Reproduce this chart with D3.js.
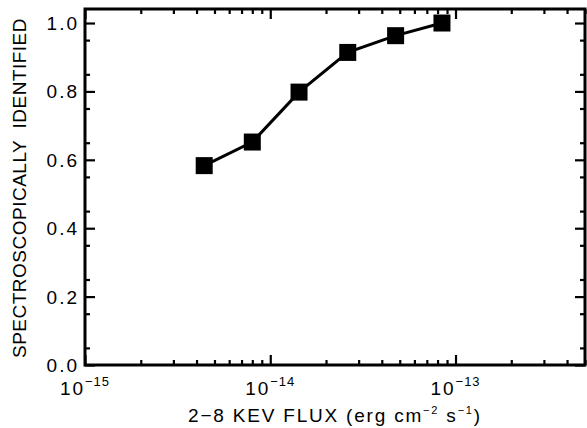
<!DOCTYPE html>
<html>
<head>
<meta charset="utf-8">
<script src="https://cdn.jsdelivr.net/npm/d3@7"></script>
<style>
  body { margin: 0; background: #fff; }
  svg { display: block; font-family: "Liberation Sans", Arial, sans-serif; }
</style>
</head>
<body>
<div id="chart"></div>
<script>
// data
const flux = [4.4e-15, 8.0e-15, 1.43e-14, 2.62e-14, 4.75e-14, 8.45e-14];
const fraction = [0.583, 0.652, 0.798, 0.914, 0.963, 1.0];
const yTicks = [0.0, 0.2, 0.4, 0.6, 0.8, 1.0];
const xMajor = [1e-15, 1e-14, 1e-13];
const xExponents = ["-15", "-14", "-13"];

const width = 587;
const height = 428;
const margin = { top: 9, right: 2, bottom: 63, left: 85 };

const svg = d3
  .select("#chart")
  .append("svg")
  .attr("width", width)
  .attr("height", height);

const x = d3
  .scaleLog()
  .domain([1e-15, 5e-13])
  .range([margin.left, width - margin.right]);
const y = d3
  .scaleLinear()
  .domain([0, 1.041])
  .range([height - margin.bottom, margin.top]);

// minor ticks on x: 2..9 x 10^n
const xMinor = [];
[-15, -14, -13].forEach((e) => {
  for (let m = 2; m <= 9; m++) {
    const v = m * Math.pow(10, e);
    if (v <= 5e-13) xMinor.push(v);
  }
});
const yMinor = d3.range(0.05, 1.04, 0.1);

const tickW = 2.2;

// bottom & top axes
[
  [d3.axisBottom, height - margin.bottom],
  [d3.axisTop, margin.top],
].forEach(([ax, pos]) => {
  svg
    .append("g")
    .attr("transform", `translate(0,${pos})`)
    .call(ax(x).tickValues(xMinor).tickSize(-5).tickFormat(""))
    .call((g) => g.select(".domain").remove())
    .selectAll("line")
    .attr("stroke-width", tickW);
  svg
    .append("g")
    .attr("transform", `translate(0,${pos})`)
    .call(ax(x).tickValues(xMajor).tickSize(-10).tickFormat(""))
    .call((g) => g.select(".domain").remove())
    .selectAll("line")
    .attr("stroke-width", tickW);
});

// left & right axes
[
  [d3.axisLeft, margin.left],
  [d3.axisRight, width - margin.right],
].forEach(([ax, pos]) => {
  svg
    .append("g")
    .attr("transform", `translate(${pos},0)`)
    .call(ax(y).tickValues(yMinor).tickSize(-5).tickFormat(""))
    .call((g) => g.select(".domain").remove())
    .selectAll("line")
    .attr("stroke-width", tickW);
  svg
    .append("g")
    .attr("transform", `translate(${pos},0)`)
    .call(ax(y).tickValues(yTicks).tickSize(-10).tickFormat(""))
    .call((g) => g.select(".domain").remove())
    .selectAll("line")
    .attr("stroke-width", tickW);
});

// frame
svg
  .append("rect")
  .attr("x", margin.left)
  .attr("y", margin.top)
  .attr("width", width - margin.left - margin.right)
  .attr("height", height - margin.top - margin.bottom)
  .attr("fill", "none")
  .attr("stroke", "#000")
  .attr("stroke-width", 3);

// y tick labels
svg
  .append("g")
  .selectAll("text")
  .data(yTicks)
  .join("text")
  .attr("x", margin.left - 6)
  .attr("y", (d) => y(d) + 7)
  .attr("text-anchor", "end")
  .attr("font-size", 19)
  .attr("letter-spacing", 2)
  .text((d) => d.toFixed(1));

// x tick labels 10^n
const xl = svg
  .append("g")
  .selectAll("text")
  .data(xMajor)
  .join("text")
  .attr("x", (d) => x(d))
  .attr("y", height - margin.bottom + 30)
  .attr("text-anchor", "middle")
  .attr("font-size", 19)
  .attr("letter-spacing", 2);
xl.append("tspan").text("10");
xl.append("tspan")
  .attr("font-size", 13)
  .attr("letter-spacing", 1)
  .attr("dy", -9)
  .text((d, i) => "\u2212" + xExponents[i].slice(1));

// axis titles
svg
  .append("text")
  .attr("transform", `translate(26,${(margin.top + height - margin.bottom) / 2 + 1}) rotate(-90)`)
  .attr("text-anchor", "middle")
  .attr("font-size", 19)
  .attr("letter-spacing", 0.5)
  .attr("xml:space", "preserve")
  .text("SPECTROSCOPICALLY  IDENTIFIED");

const xt = svg
  .append("text")
  .attr("x", (margin.left + width - margin.right) / 2)
  .attr("y", height - 6)
  .attr("text-anchor", "middle")
  .attr("font-size", 19)
  .attr("letter-spacing", 1.8)
  .attr("xml:space", "preserve");
xt.append("tspan").text("2\u22128 KEV FLUX (erg cm");
xt.append("tspan").attr("font-size", 11).attr("dy", -8).text("\u22122");
xt.append("tspan").attr("dy", 8).text(" s");
xt.append("tspan").attr("font-size", 11).attr("dy", -8).text("\u22121");
xt.append("tspan").attr("dy", 8).text(")");

// line + markers
const pts = flux.map((f, i) => [f, fraction[i]]);
svg
  .append("path")
  .datum(pts)
  .attr("fill", "none")
  .attr("stroke", "#000")
  .attr("stroke-width", 3)
  .attr("d", d3.line().x((d) => x(d[0])).y((d) => y(d[1])));

const ms = 17;
svg
  .append("g")
  .selectAll("rect")
  .data(pts)
  .join("rect")
  .attr("x", (d) => x(d[0]) - ms / 2)
  .attr("y", (d) => y(d[1]) - ms / 2)
  .attr("width", ms)
  .attr("height", ms)
  .attr("fill", "#000");
</script>
</body>
</html>
